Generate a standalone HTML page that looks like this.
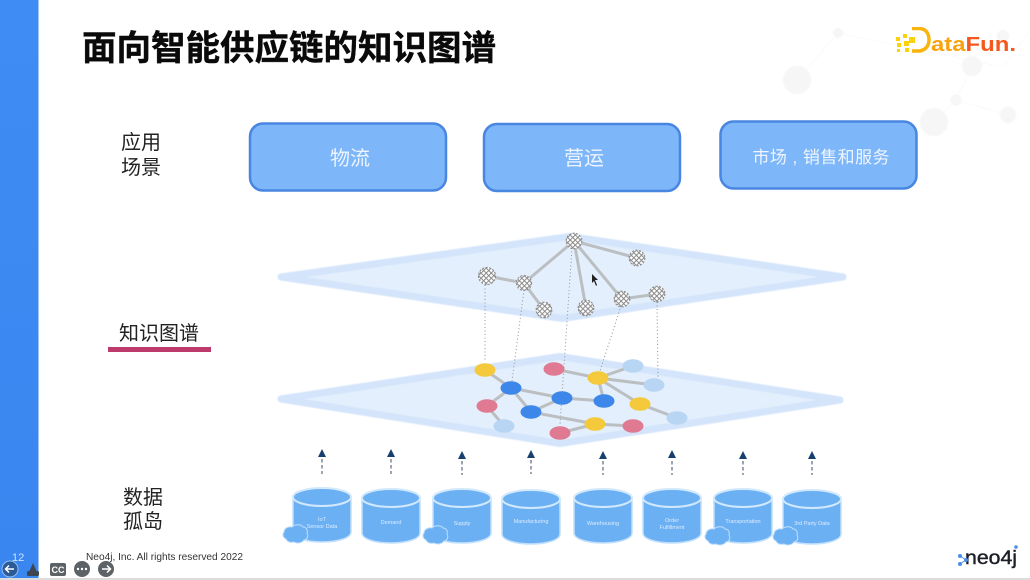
<!DOCTYPE html>
<html><head><meta charset="utf-8"><style>
html,body{margin:0;padding:0;background:#fff;width:1030px;height:580px;overflow:hidden}
svg{display:block}
text{font-family:"Liberation Sans","Noto Sans CJK SC",sans-serif}
</style></head><body>
<svg width="1030" height="580" viewBox="0 0 1030 580" xmlns="http://www.w3.org/2000/svg">
<defs>
<linearGradient id="bar" x1="0" y1="0" x2="0" y2="1"><stop offset="0" stop-color="#3e8cf4"/><stop offset="1" stop-color="#3a86f0"/></linearGradient>
<pattern id="chk" width="3.6" height="3.6" patternUnits="userSpaceOnUse" patternTransform="rotate(45)"><rect width="3.6" height="3.6" fill="#fff"/><rect width="1" height="3.6" fill="#8a8a8a"/><rect width="3.6" height="1" fill="#8a8a8a"/></pattern>
<filter id="b" x="-5%" y="-5%" width="110%" height="110%"><feGaussianBlur stdDeviation="0.6"/></filter>
<filter id="b2" x="-5%" y="-5%" width="110%" height="110%"><feGaussianBlur stdDeviation="0.35"/></filter>
</defs>
<rect width="1030" height="580" fill="#fff"/>
<rect x="0" y="0" width="38.500" height="578" fill="url(#bar)"/>
<rect x="0" y="578" width="1030" height="2" fill="#dcdcdc"/>

<!-- faded background network -->
<g fill="#f6f6f6" stroke="#fafafa" stroke-width="1">
<path d="M797 80L838 33L1003 67M972 66L956 100L1008 115M956 100L934 122M1003 67L1030 30" fill="none"/>
<circle cx="797" cy="80" r="14"/><circle cx="838" cy="33" r="5"/><circle cx="972" cy="66" r="10"/><circle cx="956" cy="100" r="5.500"/><circle cx="934" cy="122" r="14"/><circle cx="1008" cy="115" r="8"/><circle cx="1003" cy="36" r="6"/>
</g>

<!-- title -->
<text x="82" y="60" font-size="34.500" font-weight="700" fill="#0a0a0a" stroke="#0a0a0a" stroke-width="0.400">面向智能供应链的知识图谱</text>

<!-- DataFun logo -->
<g filter="url(#b2)">
<g fill="#fbd20a"><rect x="896" y="37" width="4" height="4"/><rect x="903" y="34" width="4" height="4"/><rect x="909" y="37" width="6" height="6"/><rect x="897" y="43" width="4" height="4"/><rect x="904" y="41" width="5" height="5"/><rect x="897" y="49" width="3" height="3"/><rect x="905" y="48" width="4" height="4"/></g>
<path d="M912 28.500H919C927 28.500 929 35 929 40C929 46 925 51 918 51H912" fill="none" stroke="#fbb40c" stroke-width="3.500"/>
<text x="931" y="51" font-size="20" font-weight="700" fill="#f98a10" textLength="85" lengthAdjust="spacingAndGlyphs"><tspan fill="#f9a20e">ata</tspan><tspan fill="#f4591a">Fun.</tspan></text>
</g>

<!-- side labels -->
<g font-size="20" fill="#222" filter="url(#b2)">
<text x="121" y="149">应用</text><text x="121" y="174">场景</text>
<text x="119" y="340">知识图谱</text>
<text x="123" y="504">数据</text><text x="123" y="528">孤岛</text>
</g>
<rect x="108" y="347" width="103" height="5" fill="#bd3b6c" filter="url(#b2)"/>

<!-- app boxes -->
<g fill="#7db6f9" stroke="#4a86e2" stroke-width="2.500" filter="url(#b2)">
<rect x="250" y="123.500" width="196" height="67" rx="13"/>
<rect x="484" y="124" width="196" height="67" rx="13"/>
<rect x="720.500" y="121.500" width="196" height="67" rx="13"/>
</g>
<g fill="#eef5ff" text-anchor="middle" filter="url(#b2)">
<text x="350" y="165" font-size="20">物流</text>
<text x="584" y="165" font-size="20">营运</text>
<text x="821" y="163" font-size="17" textLength="137" lengthAdjust="spacing">市场 , 销售和服务</text>
</g>

<!-- planes -->
<g fill="#e3effc" stroke="#d3e4fb" stroke-width="7" stroke-linejoin="round" filter="url(#b)">
<polygon points="281,277 570,236.500 843,277 562,318.500"/>
<polygon points="281,399 560,356.500 840,400 560,443.500"/>
</g>

<!-- dotted links -->
<g stroke="#8d9298" stroke-width="1" stroke-dasharray="1 2.500" fill="none">
<line x1="485" y1="285" x2="485" y2="362"/>
<line x1="524" y1="290" x2="512" y2="381"/>
<line x1="572" y1="248" x2="560" y2="425"/>
<line x1="621" y1="306" x2="600" y2="371"/>
<line x1="657" y1="302" x2="658" y2="379"/>
</g>

<!-- top graph edges -->
<g stroke="#bcbfc2" stroke-width="3" fill="none" filter="url(#b2)">
<line x1="487" y1="276" x2="524" y2="283"/>
<line x1="524" y1="283" x2="544" y2="310"/>
<line x1="524" y1="283" x2="574" y2="241"/>
<line x1="574" y1="241" x2="637" y2="258"/>
<line x1="574" y1="241" x2="586" y2="308"/>
<line x1="574" y1="241" x2="622" y2="299"/>
<line x1="622" y1="299" x2="657" y2="294"/>
</g>
<g fill="url(#chk)" stroke="#8f8f8f" stroke-width="1.200" stroke-dasharray="2 1.500">
<circle cx="487" cy="276" r="8.500"/><circle cx="524" cy="283" r="7.500"/><circle cx="544" cy="310" r="7.800"/><circle cx="574" cy="241" r="7.800"/><circle cx="637" cy="258" r="7.800"/><circle cx="586" cy="308" r="7.800"/><circle cx="622" cy="299" r="7.800"/><circle cx="657" cy="294" r="7.800"/>
</g>
<!-- cursor -->
<path d="M592 274L592 283L594 281L596 286L597 285L595 280L598 280Z" fill="#222"/>

<!-- bottom graph edges -->
<g stroke="#bcbfc2" stroke-width="3" fill="none" filter="url(#b2)">
<path d="M485 370L511 388L487 406L504 426M511 388L531 412L595 424L633 426M595 424L560 433M511 388L562 398L604 401L598 378M531 412L562 398M554 369L598 378L633 366M598 378L654 385M598 378L640 404L677 418"/>
</g>
<g filter="url(#b2)">
<g fill="#f4c93a"><ellipse cx="485" cy="370" rx="10.500" ry="6.800"/><ellipse cx="598" cy="378" rx="10.500" ry="6.800"/><ellipse cx="640" cy="404" rx="10.500" ry="6.800"/><ellipse cx="595" cy="424" rx="10.500" ry="6.800"/></g>
<g fill="#3e87ea"><ellipse cx="511" cy="388" rx="10.500" ry="6.800"/><ellipse cx="531" cy="412" rx="10.500" ry="6.800"/><ellipse cx="562" cy="398" rx="10.500" ry="6.800"/><ellipse cx="604" cy="401" rx="10.500" ry="6.800"/></g>
<g fill="#e07a92"><ellipse cx="487" cy="406" rx="10.500" ry="6.800"/><ellipse cx="554" cy="369" rx="10.500" ry="6.800"/><ellipse cx="633" cy="426" rx="10.500" ry="6.800"/><ellipse cx="560" cy="433" rx="10.500" ry="6.800"/></g>
<g fill="#b8d6f3"><ellipse cx="504" cy="426" rx="10.500" ry="6.800"/><ellipse cx="633" cy="366" rx="10.500" ry="6.800"/><ellipse cx="654" cy="385" rx="10.500" ry="6.800"/><ellipse cx="677" cy="418" rx="10.500" ry="6.800"/></g>
</g>

<!-- arrows -->
<g fill="#17406f">
<path d="M322 449l-4 8h8z"/><path d="M391 449l-4 8h8z"/><path d="M462 451l-4 8h8z"/><path d="M531 450l-4 8h8z"/><path d="M603 451l-4 8h8z"/><path d="M672 450l-4 8h8z"/><path d="M743 451l-4 8h8z"/><path d="M812 451l-4 8h8z"/>
</g>
<g stroke="#7a8898" stroke-width="1.500" stroke-dasharray="3.500 2.500">
<line x1="322" y1="459" x2="322" y2="474"/><line x1="391" y1="459" x2="391" y2="474"/><line x1="462" y1="461" x2="462" y2="475"/><line x1="531" y1="460" x2="531" y2="474"/><line x1="603" y1="461" x2="603" y2="475"/><line x1="672" y1="461" x2="672" y2="475"/><line x1="743" y1="461" x2="743" y2="475"/><line x1="812" y1="461" x2="812" y2="475"/>
</g>

<!-- cylinders -->
<g filter="url(#b2)">
<g transform="translate(322,497)"><path d="M-29 0V35C-29 41 -16 45 0 45S29 41 29 35V0Z" fill="#6cb0f4" stroke="#c2e0fb" stroke-width="1.500"/><ellipse rx="29" ry="9" fill="#6cb0f4" stroke="#d2e9fd" stroke-width="2"/></g>
<g transform="translate(391,498)"><path d="M-29 0V35C-29 41 -16 45 0 45S29 41 29 35V0Z" fill="#6cb0f4" stroke="#c2e0fb" stroke-width="1.500"/><ellipse rx="29" ry="9" fill="#6cb0f4" stroke="#d2e9fd" stroke-width="2"/></g>
<g transform="translate(462,498)"><path d="M-29 0V35C-29 41 -16 45 0 45S29 41 29 35V0Z" fill="#6cb0f4" stroke="#c2e0fb" stroke-width="1.500"/><ellipse rx="29" ry="9" fill="#6cb0f4" stroke="#d2e9fd" stroke-width="2"/></g>
<g transform="translate(531,499)"><path d="M-29 0V35C-29 41 -16 45 0 45S29 41 29 35V0Z" fill="#6cb0f4" stroke="#c2e0fb" stroke-width="1.500"/><ellipse rx="29" ry="9" fill="#6cb0f4" stroke="#d2e9fd" stroke-width="2"/></g>
<g transform="translate(603,498)"><path d="M-29 0V35C-29 41 -16 45 0 45S29 41 29 35V0Z" fill="#6cb0f4" stroke="#c2e0fb" stroke-width="1.500"/><ellipse rx="29" ry="9" fill="#6cb0f4" stroke="#d2e9fd" stroke-width="2"/></g>
<g transform="translate(672,498)"><path d="M-29 0V35C-29 41 -16 45 0 45S29 41 29 35V0Z" fill="#6cb0f4" stroke="#c2e0fb" stroke-width="1.500"/><ellipse rx="29" ry="9" fill="#6cb0f4" stroke="#d2e9fd" stroke-width="2"/></g>
<g transform="translate(743,498)"><path d="M-29 0V35C-29 41 -16 45 0 45S29 41 29 35V0Z" fill="#6cb0f4" stroke="#c2e0fb" stroke-width="1.500"/><ellipse rx="29" ry="9" fill="#6cb0f4" stroke="#d2e9fd" stroke-width="2"/></g>
<g transform="translate(812,499)"><path d="M-29 0V35C-29 41 -16 45 0 45S29 41 29 35V0Z" fill="#6cb0f4" stroke="#c2e0fb" stroke-width="1.500"/><ellipse rx="29" ry="9" fill="#6cb0f4" stroke="#d2e9fd" stroke-width="2"/></g>
</g>
<g fill="#dcecfd" font-size="5.500" text-anchor="middle">
<text x="322" y="521">IoT</text><text x="322" y="528">Sensor Data</text>
<text x="391" y="524">Demand</text>
<text x="462" y="525">Supply</text>
<text x="531" y="523">Manufacturing</text>
<text x="603" y="525">Warehousing</text>
<text x="672" y="522">Order</text><text x="672" y="529">Fulfillment</text>
<text x="743" y="523">Transportation</text>
<text x="812" y="525">3rd Party Data</text>
</g>
<!-- clouds -->
<g fill="#6cb0f4" stroke="#c2e0fb" stroke-width="1" filter="url(#b2)">
<path d="M284 532c0-4 5-6 8-5 3-3 9-3 11 0 3 0 5 3 4 6 2 3 0 7-3 7-2 3-7 4-10 2-3 1-7 0-8-3-3-1-4-5-2-7z"/>
<path d="M424 533c0-4 5-6 8-5 3-3 9-3 11 0 3 0 5 3 4 6 2 3 0 7-3 7-2 3-7 4-10 2-3 1-7 0-8-3-3-1-4-5-2-7z"/>
<path d="M706 534c0-4 5-6 8-5 3-3 9-3 11 0 3 0 5 3 4 6 2 3 0 7-3 7-2 3-7 4-10 2-3 1-7 0-8-3-3-1-4-5-2-7z"/>
<path d="M774 534c0-4 5-6 8-5 3-3 9-3 11 0 3 0 5 3 4 6 2 3 0 7-3 7-2 3-7 4-10 2-3 1-7 0-8-3-3-1-4-5-2-7z"/>
</g>

<!-- footer -->
<text x="86" y="560" font-size="10.500" fill="#333" textLength="157" lengthAdjust="spacingAndGlyphs">Neo4j, Inc. All rights reserved 2022</text>
<text x="12" y="561" font-size="11" fill="#cfe2fb">12</text>
<circle cx="10" cy="569" r="8" fill="#2c5a94" stroke="#8fbdf5" stroke-width="1"/><path d="M14 569H6M9 565.500L5.500 569L9 572.500" stroke="#fff" stroke-width="1.500" fill="none"/>
<path d="M33 563l-3.500 8h7z" fill="#3d4650"/><rect x="27" y="571" width="12" height="5" rx="1.500" fill="#3d4650"/>
<rect x="50" y="563" width="16" height="13" rx="2" fill="#5d6266"/>
<text x="58" y="573" font-size="9" font-weight="700" fill="#fff" text-anchor="middle">CC</text>
<circle cx="82" cy="569" r="8" fill="#5d6266"/><circle cx="78" cy="569" r="1.200" fill="#fff"/><circle cx="82" cy="569" r="1.200" fill="#fff"/><circle cx="86" cy="569" r="1.200" fill="#fff"/>
<circle cx="106" cy="569" r="8" fill="#5d6266"/><path d="M102 569H110M107 565.500L110.500 569L107 572.500" stroke="#fff" stroke-width="1.500" fill="none"/>

<!-- neo4j logo -->
<text x="965" y="564" font-size="19" fill="#1c1f26" stroke="#1c1f26" stroke-width="0.400" textLength="52" lengthAdjust="spacingAndGlyphs">neo4j</text>
<g stroke="#4a8fe8" stroke-width="1" fill="#4a8fe8"><path d="M960 556L966 560L960 564" fill="none"/><circle cx="960" cy="556" r="1.500"/><circle cx="966" cy="560" r="1.500"/><circle cx="960" cy="564" r="1.500"/><circle cx="1016" cy="547" r="1.300"/></g>
</svg>
</body></html>
